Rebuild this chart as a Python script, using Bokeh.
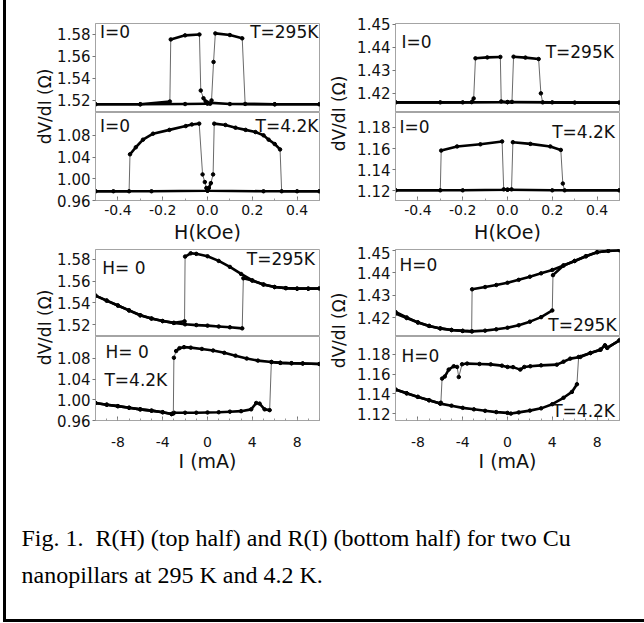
import math
from bokeh.plotting import figure
from bokeh.models import Range1d, Label, FixedTicker, PrintfTickFormatter
from bokeh.layouts import column, row
from bokeh.embed import file_html
from bokeh.resources import INLINE

# ------------------------------------------------------------------ data
h_ticks = [-0.4, -0.2, 0.0, 0.2, 0.4]
h_minor = [-0.5, -0.4, -0.3, -0.2, -0.1, 0.0, 0.1, 0.2, 0.3, 0.4, 0.5]
i_ticks = [-8, -4, 0, 4, 8]
i_minor = [-10, -9, -8, -7, -6, -5, -4, -3, -2, -1, 0, 1, 2, 3, 4, 5, 6, 7, 8, 9, 10]

tl1_yticks = [1.52, 1.54, 1.56, 1.58]
tl2_yticks = [0.96, 1.00, 1.04, 1.08]
tr1_yticks = [1.42, 1.43, 1.44, 1.45]
tr2_yticks = [1.12, 1.14, 1.16, 1.18]

# R(H), sample 1, 295 K
tl1_up_x = [-0.5, -0.3, -0.1, 0.0, 0.012, 0.018, 0.027, 0.035, 0.1, 0.155, 0.168, 0.3, 0.5]
tl1_up_y = [1.5165, 1.5165, 1.5167, 1.517, 1.517, 1.520, 1.555, 1.581, 1.5795, 1.5765, 1.5168, 1.5165, 1.5165]
tl1_dn_x = [0.5, 0.3, 0.1, 0.0, -0.008, -0.018, -0.03, -0.036, -0.1, -0.164, -0.168, -0.3, -0.5]
tl1_dn_y = [1.5165, 1.5165, 1.5167, 1.518, 1.519, 1.522, 1.529, 1.580, 1.5792, 1.5755, 1.519, 1.5165, 1.5165]

# R(H), sample 1, 4.2 K
tl2_up_x = [-0.5, -0.25, 0.0, 0.006, 0.015, 0.025, 0.03, 0.08, 0.125, 0.17, 0.214, 0.25, 0.273, 0.3, 0.324, 0.331, 0.4, 0.5]
tl2_up_y = [0.977, 0.977, 0.978, 0.983, 0.992, 1.008, 1.1015, 1.099, 1.094, 1.090, 1.086, 1.080, 1.072, 1.064, 1.054, 0.977, 0.977, 0.977]
tl2_dn_x = [0.5, 0.25, 0.0, -0.005, -0.012, -0.022, -0.037, -0.07, -0.097, -0.17, -0.243, -0.288, -0.32, -0.346, -0.35, -0.42, -0.5]
tl2_dn_y = [0.977, 0.977, 0.978, 0.983, 0.994, 1.008, 1.1015, 1.100, 1.097, 1.090, 1.083, 1.072, 1.058, 1.045, 0.977, 0.977, 0.977]

# R(H), sample 2, 295 K
tr1_up_x = [-0.5, -0.2, 0.0, 0.02, 0.027, 0.08, 0.139, 0.149, 0.157, 0.3, 0.5]
tr1_up_y = [1.4161, 1.4161, 1.4162, 1.4163, 1.4359, 1.4355, 1.4349, 1.4200, 1.4161, 1.4160, 1.4160]
tr1_dn_x = [0.5, 0.2, 0.0, -0.028, -0.032, -0.09, -0.143, -0.151, -0.16, -0.3, -0.5]
tr1_dn_y = [1.4160, 1.4161, 1.4162, 1.4165, 1.4358, 1.4356, 1.4352, 1.4178, 1.4162, 1.4161, 1.4161]

# R(H), sample 2, 4.2 K
tr2_up_x = [-0.5, -0.2, 0.0, 0.018, 0.024, 0.102, 0.191, 0.238, 0.247, 0.255, 0.5]
tr2_up_y = [1.1206, 1.1206, 1.1212, 1.1215, 1.1660, 1.1644, 1.1620, 1.1587, 1.1270, 1.1206, 1.1206]
tr2_dn_x = [0.5, 0.2, 0.0, -0.017, -0.024, -0.121, -0.225, -0.296, -0.30, -0.5]
tr2_dn_y = [1.1206, 1.1206, 1.1212, 1.1215, 1.1667, 1.1640, 1.1620, 1.1581, 1.1206, 1.1206]

# R(I), sample 1, 295 K
bl1_up_x = [-10, -9, -8, -7, -6, -5, -4, -3, -2, -1, 0, 1, 2, 3.1, 3.2, 4, 5, 6, 7, 8, 9, 10]
bl1_up_y = [1.5466, 1.542, 1.5375, 1.533, 1.5285, 1.5255, 1.5232, 1.5215, 1.5202, 1.5195, 1.519, 1.5182, 1.5175, 1.5165,
            1.5625, 1.5605, 1.5568, 1.5545, 1.5535, 1.553, 1.553, 1.5532]
bl1_dn_x = [10, 9, 8, 7, 6, 5, 4, 3, 2, 1, 0, -1, -1.5, -2.0, -2.05, -3, -4, -5, -6, -7, -8, -9, -10]
bl1_dn_y = [1.5532, 1.553, 1.553, 1.5535, 1.5545, 1.5568, 1.5605, 1.5665, 1.573, 1.5785, 1.5828, 1.585, 1.5855, 1.5825,
            1.523, 1.5215, 1.5232, 1.5255, 1.5285, 1.533, 1.5375, 1.542, 1.5466]

# R(I), sample 1, 4.2 K
bl2_up_x = [-10, -9, -8, -7, -6, -5, -4, -3.2, -3, -2, -1, 0, 1, 2, 3, 3.9, 4.35, 4.65, 5.1, 5.55, 5.7, 6.5, 7.5, 8.5, 10]
bl2_up_y = [0.9938, 0.9905, 0.9877, 0.9845, 0.9815, 0.979, 0.976, 0.9725, 0.975, 0.975, 0.975, 0.9755, 0.976, 0.977,
            0.978, 0.9815, 0.9938, 0.9926, 0.9815, 0.980, 1.0728, 1.0712, 1.0705, 1.070, 1.069]
bl2_dn_x = [10, 8.5, 7.5, 6.5, 5.7, 4.5, 3.5, 2.5, 1.5, 0.5, -0.5, -1.5, -2.1, -2.5, -2.8, -3.0, -3.05, -3.2, -4, -5, -6,
            -7, -8, -9, -10]
bl2_dn_y = [1.069, 1.070, 1.0705, 1.0712, 1.0728, 1.0755, 1.0795, 1.085, 1.0905, 1.095, 1.098, 1.1005, 1.1015, 1.0995,
            1.094, 1.081, 0.9735, 0.9725, 0.976, 0.979, 0.9815, 0.9845, 0.9877, 0.9905, 0.9938]

# R(I), sample 2, 295 K
br1_up_x = [-10, -9, -8, -7, -6, -5, -4, -3.16, -2, -1, 0, 1, 2, 3, 4.0, 4.06, 5, 6, 7, 8, 9, 10]
br1_up_y = [1.4225, 1.4201, 1.4179, 1.4163, 1.4152, 1.4145, 1.4141, 1.4139, 1.4142, 1.4148, 1.4155, 1.4166, 1.4182,
            1.4202, 1.4232, 1.4389, 1.4432, 1.4452, 1.4473, 1.4491, 1.4497, 1.4500]
br1_dn_x = [10, 9, 8, 7, 6, 5, 4, 3, 2, 1, 0, -1, -2, -3.16, -3.2, -4, -5, -6, -7, -8, -9, -10]
br1_dn_y = [1.4500, 1.4497, 1.4491, 1.4473, 1.4452, 1.4432, 1.4412, 1.4397, 1.4382, 1.4368, 1.4355, 1.4345, 1.4336,
            1.4326, 1.4139, 1.4141, 1.4145, 1.4152, 1.4163, 1.4178, 1.4198, 1.4218]

# R(I), sample 2, 4.2 K
br2_up_x = [-10, -9, -8, -7, -6, -5, -4, -3, -2, -1, 0, 0.3, 1, 2, 3, 4, 5, 5.75, 6.2, 6.35, 7.4, 8.3, 8.7, 8.9, 10]
br2_up_y = [1.1443, 1.1405, 1.1369, 1.1335, 1.1301, 1.128, 1.1258, 1.1243, 1.1228, 1.1215, 1.1207, 1.1200, 1.1212,
            1.123, 1.1253, 1.1295, 1.136, 1.1419, 1.1497, 1.1773, 1.1813, 1.1847, 1.189, 1.1865, 1.1941]
br2_dn_x = [10, 8.9, 8.7, 8.3, 7.4, 6.5, 5.6, 5.0, 4.4, 3.0, 2.04, 1.5, 1.14, 0.5, 0.0, -0.5, -1.5, -2.5, -3.6, -4.06,
            -4.35, -4.5, -4.8, -5.25, -5.6, -5.84, -5.95, -6, -7, -8, -9, -10]
br2_dn_y = [1.1941, 1.1865, 1.189, 1.1847, 1.1813, 1.1773, 1.1756, 1.1725, 1.1695, 1.1688, 1.1679, 1.1672, 1.1645,
            1.167, 1.1672, 1.1685, 1.1698, 1.1702, 1.1706, 1.1699, 1.157, 1.1672, 1.1679, 1.1645, 1.1575, 1.1554,
            1.1310, 1.1301, 1.1335, 1.1369, 1.1405, 1.1443]

caption_lines = ["Fig. 1.\u00a0 R(H) (top half) and R(I) (bottom half) for two Cu",
                 "nanopillars at 295 K and 4.2 K."]

# ------------------------------------------------------------------ style
SANS = "DejaVu Sans"
SERIF = "Liberation Serif"
FRAME = "#a4a4a4"
TXT = "#111111"
FW = 224


def draw_branch(p, xs, ys, xr, yr, fw, fh):
    runs, thin_x, thin_y = [], [], []
    cx, cy = [xs[0]], [ys[0]]
    for i in range(len(xs) - 1):
        dxp = abs(xs[i + 1] - xs[i]) / (xr[1] - xr[0]) * fw
        dyp = abs(ys[i + 1] - ys[i]) / (yr[1] - yr[0]) * fh
        if dyp > 1.5 * dxp + 2:
            if len(cx) > 1:
                runs.append((cx, cy))
            thin_x.append([xs[i], xs[i + 1]])
            thin_y.append([ys[i], ys[i + 1]])
            cx, cy = [xs[i + 1]], [ys[i + 1]]
        else:
            cx.append(xs[i + 1])
            cy.append(ys[i + 1])
    if len(cx) > 1:
        runs.append((cx, cy))
    if thin_x:
        p.multi_line(thin_x, thin_y, line_color="#6a6a6a", line_width=1)
    if runs:
        p.multi_line([r[0] for r in runs], [r[1] for r in runs], line_color="black",
                     line_width=2.6, line_join="round", line_cap="round")
    p.scatter(xs, ys, size=3.5, color="black")


def make_panel(xr, yr, yticks, yfmt, xticks, xminor, xfmt, fh, mt, mb, ml, mr,
               branches, texts, show_x=False, xlabel=None, x_standoff=4, xl_standoff=3):
    p = figure(frame_width=FW, frame_height=fh, x_range=Range1d(*xr), y_range=Range1d(*yr),
               toolbar_location=None, output_backend="svg",
               min_border_top=mt, min_border_bottom=mb, min_border_left=ml, min_border_right=mr)
    p.grid.visible = False
    p.outline_line_color = FRAME
    p.outline_line_width = 1
    ya = p.yaxis[0]
    ya.ticker = FixedTicker(ticks=yticks, minor_ticks=[])
    ya.formatter = PrintfTickFormatter(format=yfmt)
    ya.major_tick_out = 3
    ya.major_tick_in = 0
    ya.minor_tick_out = 0
    ya.minor_tick_in = 0
    ya.axis_line_color = FRAME
    ya.major_tick_line_color = "#777777"
    ya.major_label_text_font = SANS
    ya.major_label_text_font_size = "15px"
    ya.major_label_text_color = TXT
    ya.major_label_standoff = 2
    xa = p.xaxis[0]
    if show_x:
        xa.ticker = FixedTicker(ticks=xticks, minor_ticks=xminor)
        xa.formatter = PrintfTickFormatter(format=xfmt)
        xa.major_tick_out = 0
        xa.major_tick_in = 4
        xa.minor_tick_out = 0
        xa.minor_tick_in = 2
        xa.axis_line_color = FRAME
        xa.major_tick_line_color = "#777777"
        xa.minor_tick_line_color = "#999999"
        xa.major_label_text_font = SANS
        xa.major_label_text_font_size = "14px"
        xa.major_label_text_color = TXT
        xa.major_label_standoff = x_standoff
        xa.axis_label = xlabel
        xa.axis_label_text_font = SANS
        xa.axis_label_text_font_size = "19px"
        xa.axis_label_text_font_style = "normal"
        xa.axis_label_text_color = TXT
        xa.axis_label_standoff = xl_standoff
    else:
        xa.visible = False
    for bx, by in branches:
        draw_branch(p, bx, by, xr, yr, FW, fh)
    for (txt, fx, fy, align) in texts:
        p.add_layout(Label(x=xr[0] + fx * (xr[1] - xr[0]), y=yr[1] - fy * (yr[1] - yr[0]), text=txt,
                           text_font=SANS, text_font_size="17px", text_color=TXT,
                           text_align=align, text_baseline="middle"))
    return p


def blank(w, h):
    p = figure(width=w, height=h, x_range=Range1d(0, w), y_range=Range1d(h, 0),
               toolbar_location=None, output_backend="svg", x_axis_type=None, y_axis_type=None,
               min_border=0)
    p.grid.visible = False
    p.outline_line_color = None
    return p


def ylab(w, h, cx, cy):
    p = blank(w, h)
    p.add_layout(Label(x=cx, y=cy, text="dV/dI (\u03a9)", angle=math.pi / 2, text_font=SANS,
                       text_font_size="17px", text_color=TXT, text_align="center", text_baseline="middle"))
    return p


HR = (-0.5, 0.5)
IR = (-10, 10)

tl1 = make_panel(HR, (1.509, 1.590), tl1_yticks, "%.2f", h_ticks, h_minor, "%.1f", 89, 23, 0, 39, 7,
                 [(tl1_up_x, tl1_up_y), (tl1_dn_x, tl1_dn_y)],
                 [("I=0", 0.02, 0.10, "left"), ("T=295K", 0.995, 0.10, "right")])
tl2 = make_panel(HR, (0.960, 1.122), tl2_yticks, "%.2f", h_ticks, h_minor, "%.1f", 88, 0, 46, 39, 7,
                 [(tl2_up_x, tl2_up_y), (tl2_dn_x, tl2_dn_y)],
                 [("I=0", 0.02, 0.15, "left"), ("T=4.2K", 0.995, 0.15, "right")],
                 show_x=True, xlabel="H(kOe)", x_standoff=4, xl_standoff=3)
tr1 = make_panel(HR, (1.4117, 1.4503), tr1_yticks, "%.2f", h_ticks, h_minor, "%.1f", 89, 23, 0, 40, 28,
                 [(tr1_up_x, tr1_up_y), (tr1_dn_x, tr1_dn_y)],
                 [("I=0", 0.027, 0.21, "left"), ("T=295K", 0.975, 0.32, "right")])
tr2 = make_panel(HR, (1.111, 1.194), tr2_yticks, "%.2f", h_ticks, h_minor, "%.1f", 88, 0, 46, 40, 28,
                 [(tr2_up_x, tr2_up_y), (tr2_dn_x, tr2_dn_y)],
                 [("I=0", 0.018, 0.17, "left"), ("T=4.2K", 0.98, 0.22, "right")],
                 show_x=True, xlabel="H(kOe)", x_standoff=4, xl_standoff=3)

bl1 = make_panel(IR, (1.509, 1.589), tl1_yticks, "%.2f", i_ticks, i_minor, "%d", 87, 3, 0, 39, 7,
                 [(bl1_up_x, bl1_up_y), (bl1_dn_x, bl1_dn_y)],
                 [("H= 0", 0.03, 0.21, "left"), ("T=295K", 0.98, 0.11, "right")])
bl2 = make_panel(IR, (0.960, 1.122), tl2_yticks, "%.2f", i_ticks, i_minor, "%d", 84, 0, 58, 39, 7,
                 [(bl2_up_x, bl2_up_y), (bl2_dn_x, bl2_dn_y)],
                 [("H= 0", 0.045, 0.19, "left"), ("T=4.2K", 0.04, 0.52, "left")],
                 show_x=True, xlabel="I (mA)", x_standoff=16, xl_standoff=0)
br1 = make_panel(IR, (1.4116, 1.4503), tr1_yticks, "%.2f", i_ticks, i_minor, "%d", 87, 3, 0, 40, 28,
                 [(br1_up_x, br1_up_y), (br1_dn_x, br1_dn_y)],
                 [("H=0", 0.018, 0.18, "left"), ("T=295K", 0.987, 0.87, "right")])
br2 = make_panel(IR, (1.113, 1.198), tr2_yticks, "%.2f", i_ticks, i_minor, "%d", 84, 0, 58, 40, 28,
                 [(br2_up_x, br2_up_y), (br2_dn_x, br2_dn_y)],
                 [("H=0", 0.027, 0.23, "left"), ("T=4.2K", 0.98, 0.89, "right")],
                 show_x=True, xlabel="I (mA)", x_standoff=16, xl_standoff=0)

top_row = row(ylab(48, 246, 38, 106), column(tl1, tl2), ylab(28, 246, 12, 113), column(tr1, tr2))
bot_row = row(ylab(48, 232, 38, 81), column(bl1, bl2), ylab(28, 232, 12, 84), column(br1, br2))

cap = blank(638, 141)
cap.styles = {"box-shadow": "-3px 3px 0 0 #000, 3px 3px 0 0 #000"}
for k, line in enumerate(caption_lines):
    cap.add_layout(Label(x=15, y=59 + 37 * k, text=line, text_font=SERIF, text_font_size="24px",
                         text_color="#000000", text_align="left", text_baseline="middle"))

page = column(top_row, bot_row, cap,
              styles={"margin-left": "6px", "box-shadow": "-3px 0 0 0 #000"})

open("out.html", "w").write(file_html(page, INLINE))
